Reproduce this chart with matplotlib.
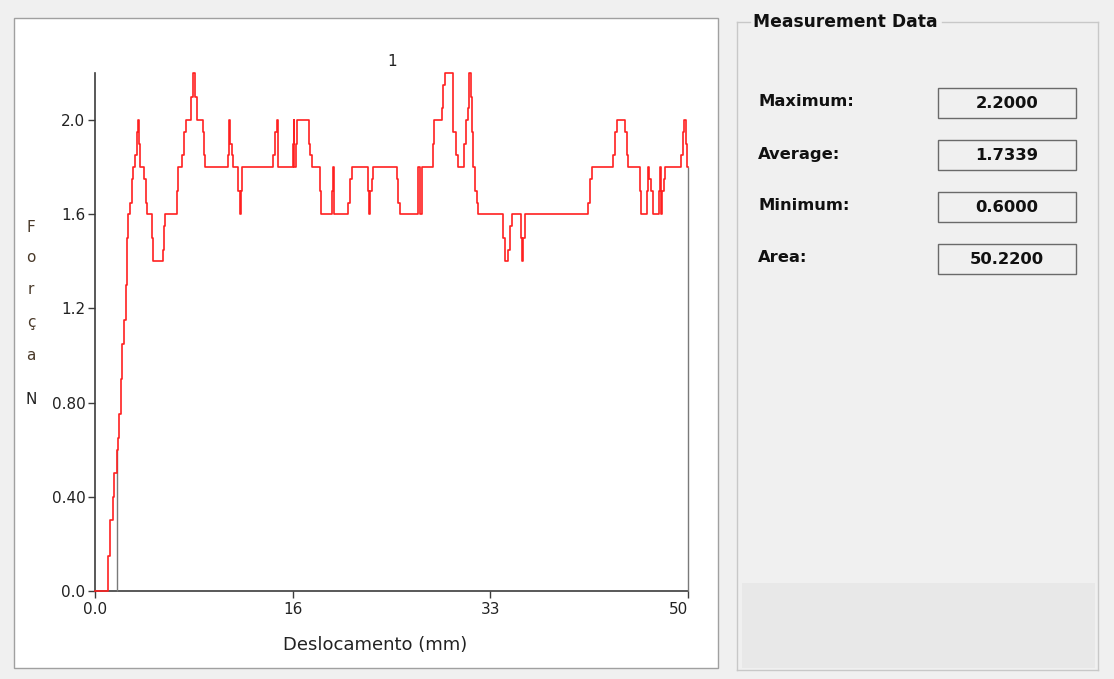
import numpy as np
import matplotlib
matplotlib.use("Agg")
import matplotlib.pyplot as plt
from matplotlib.patches import Rectangle
from matplotlib.lines import Line2D

# ---- force / displacement record (value holds until the next sample) ----
displacement_mm = [
    0.00, 1.10, 1.29, 1.50, 1.64, 1.85, 1.92, 1.99, 2.17, 2.31, 2.46, 2.60,
    2.70, 2.81, 2.95, 3.09, 3.23, 3.37, 3.51, 3.65, 3.74, 3.79, 4.13, 4.27,
    4.41, 4.83, 4.92, 5.71, 5.82, 5.90, 6.89, 7.03, 7.36, 7.53, 7.67, 8.09,
    8.24, 8.43, 8.57, 9.11, 9.19, 9.27, 11.19, 11.30, 11.38, 11.53, 11.67,
    12.09, 12.23, 12.31, 12.37, 15.04, 15.18, 15.32, 15.40, 15.46, 16.67,
    16.75, 16.81, 16.92, 17.00, 18.07, 18.15, 18.27, 18.97, 19.06, 19.96,
    20.04, 20.13, 21.36, 21.50, 21.65, 23.05, 23.13, 23.22, 23.33, 23.47,
    25.44, 25.58, 25.72, 27.21, 27.27, 27.41, 27.55, 28.48, 28.62, 29.23,
    29.37, 29.51, 30.16, 30.22, 30.41, 30.58, 31.11, 31.28, 31.42, 31.56,
    31.70, 31.76, 31.90, 32.04, 32.18, 32.32, 34.43, 34.57, 34.85, 34.99,
    35.13, 35.90, 35.97, 36.05, 36.11, 36.25, 41.60, 41.74, 41.88, 43.70,
    43.84, 43.98, 44.69, 44.83, 44.91, 45.95, 46.03, 46.51, 46.63, 46.71,
    46.88, 47.02, 47.55, 47.67, 47.72, 47.83, 47.95, 48.08, 49.40, 49.55,
    49.69, 49.80, 49.91, 50.00,
]
force_N = [
    0.00, 0.15, 0.30, 0.40, 0.50, 0.60, 0.65, 0.75, 0.90, 1.05, 1.15, 1.30,
    1.50, 1.60, 1.65, 1.75, 1.80, 1.85, 1.95, 2.00, 1.90, 1.80, 1.75, 1.65,
    1.60, 1.50, 1.40, 1.45, 1.55, 1.60, 1.70, 1.80, 1.85, 1.95, 2.00, 2.10,
    2.20, 2.10, 2.00, 1.95, 1.85, 1.80, 1.85, 2.00, 1.90, 1.85, 1.80,
    1.70, 1.60, 1.70, 1.80, 1.85, 1.95, 2.00, 1.90, 1.80, 1.90,
    2.00, 1.80, 1.90, 2.00, 1.90, 1.85, 1.80, 1.70, 1.60, 1.70,
    1.80, 1.60, 1.65, 1.75, 1.80, 1.70, 1.60, 1.70, 1.75, 1.80,
    1.75, 1.65, 1.60, 1.70, 1.80, 1.60, 1.80, 1.90, 2.00, 2.05,
    2.15, 2.20, 2.00, 1.95, 1.85, 1.80, 1.90, 2.00, 2.05, 2.20,
    2.10, 1.95, 1.80, 1.70, 1.65, 1.60, 1.50, 1.40, 1.45, 1.55,
    1.60, 1.50, 1.40, 1.45, 1.50, 1.60, 1.65, 1.75, 1.80, 1.85,
    1.95, 2.00, 1.95, 1.85, 1.80, 1.70, 1.60, 1.70, 1.80, 1.75,
    1.70, 1.60, 1.70, 1.80, 1.60, 1.70, 1.75, 1.80, 1.85, 1.95,
    2.00, 1.90, 1.80, 1.80,
]

# measurement window limits (mm)
window_start_mm = 1.85
window_end_mm = 50.0

x_ticks = [0.0, 50 / 3, 100 / 3, 50.0]
x_tick_labels = ["0.0", "16", "33", "50"]
y_ticks = [0.0, 0.4, 0.8, 1.2, 1.6, 2.0]
y_tick_labels = ["0.0", "0.40", "0.80", "1.2", "1.6", "2.0"]

stat_names = ["Maximum:", "Average:", "Minimum:", "Area:"]
stat_values = ["2.2000", "1.7339", "0.6000", "50.2200"]

# ---- canvas in pixel units ----
W, H = 1114, 679
BG = "#f0f0f0"


def fx(px):
    return px / W


def fy(py):
    return 1 - py / H


fig = plt.figure(figsize=(W / 100, H / 100), dpi=100)
fig.patch.set_facecolor(BG)


def frect(x0, y0, x1, y1, **kw):
    r = Rectangle((fx(x0), fy(y1)), (x1 - x0) / W, (y1 - y0) / H,
                  transform=fig.transFigure, **kw)
    fig.add_artist(r)
    return r


def fline(xs, ys, **kw):
    fig.add_artist(Line2D([fx(v) for v in xs], [fy(v) for v in ys],
                          transform=fig.transFigure, **kw))


# chart panel
frect(14, 18, 718, 668, facecolor="white", edgecolor="#a0a0a0", lw=1.0, zorder=0)

ax = fig.add_axes([fx(95), fy(591), (688 - 95) / W, (591 - 73) / H])
ax.set_facecolor("none")
ax.set_xlim(0, 50)
ax.set_ylim(0, 2.2)

ax.plot(displacement_mm, force_N, drawstyle="steps-post", color="#ff2020",
        lw=1.2, zorder=5, clip_on=False)

fx_arr = np.asarray(displacement_mm)
fn_arr = np.asarray(force_N)


def force_at(x):
    i = np.searchsorted(fx_arr, x, side="right") - 1
    return fn_arr[max(i, 0)]


for xm in (window_start_mm, window_end_mm):
    ax.vlines(xm, 0, force_at(xm), color="#7a7a7a", lw=1.0, zorder=4,
              clip_on=False)

for s in ("top", "right"):
    ax.spines[s].set_visible(False)
for s in ("left", "bottom"):
    ax.spines[s].set_color("#3c3c3c")
    ax.spines[s].set_linewidth(1.2)

ax.set_xticks(x_ticks)
ax.set_xticklabels(x_tick_labels)
ax.set_yticks(y_ticks)
ax.set_yticklabels(y_tick_labels)
ax.tick_params(axis="both", direction="out", length=5, width=1.0,
               color="#3c3c3c", labelsize=11, labelcolor="#222222")
ax.tick_params(axis="x", pad=3)
ax.tick_params(axis="y", pad=2)
xl = ax.get_xticklabels()
xl[-1].set_ha("right")

# title and axis labels
fig.text(fx(392), fy(62), "1", ha="center", va="center", fontsize=11,
         color="#222222")
fig.text(fx(375), fy(645), "Deslocamento (mm)", ha="center", va="center",
         fontsize=13, color="#222222")
for ch, py in zip(["F", "o", "r", "ç", "a", "N"], [228, 258, 289, 323, 355, 400]):
    fig.text(fx(31), fy(py), ch, ha="center", va="center", fontsize=11,
             color="#4a3a2a" if ch != "N" else "#222222")

# measurement group box
gb_l, gb_t, gb_r, gb_b = 737, 22, 1098, 670
frect(742, 583, 1095, 668, facecolor="#e8e8e8", edgecolor="none", zorder=1)
line_kw = dict(color="#c8c8c8", lw=1.0, zorder=2)
fline([gb_l, gb_l], [gb_t, gb_b], **line_kw)
fline([gb_r, gb_r], [gb_t, gb_b], **line_kw)
fline([gb_l, gb_r], [gb_b, gb_b], **line_kw)
fline([gb_l, 750], [gb_t, gb_t], **line_kw)
fline([942, gb_r], [gb_t, gb_t], **line_kw)
fig.text(fx(753), fy(gb_t), "Measurement Data", ha="left", va="center",
         fontsize=12.3, fontweight="bold", color="#111111")

box_tops = [88, 140, 192, 244]
for name, val, bt in zip(stat_names, stat_values, box_tops):
    frect(938, bt, 1076, bt + 30, facecolor=BG, edgecolor="#6a6a6a", lw=1.0,
          zorder=2)
    fig.text(fx(758), fy(bt + 14), name, ha="left", va="center",
             fontsize=11.8, fontweight="bold", color="#111111")
    fig.text(fx(1007), fy(bt + 15), val, ha="center", va="center",
             fontsize=11.8, fontweight="bold", color="#111111")

fig.savefig("out.png", dpi=100, facecolor=fig.get_facecolor())
